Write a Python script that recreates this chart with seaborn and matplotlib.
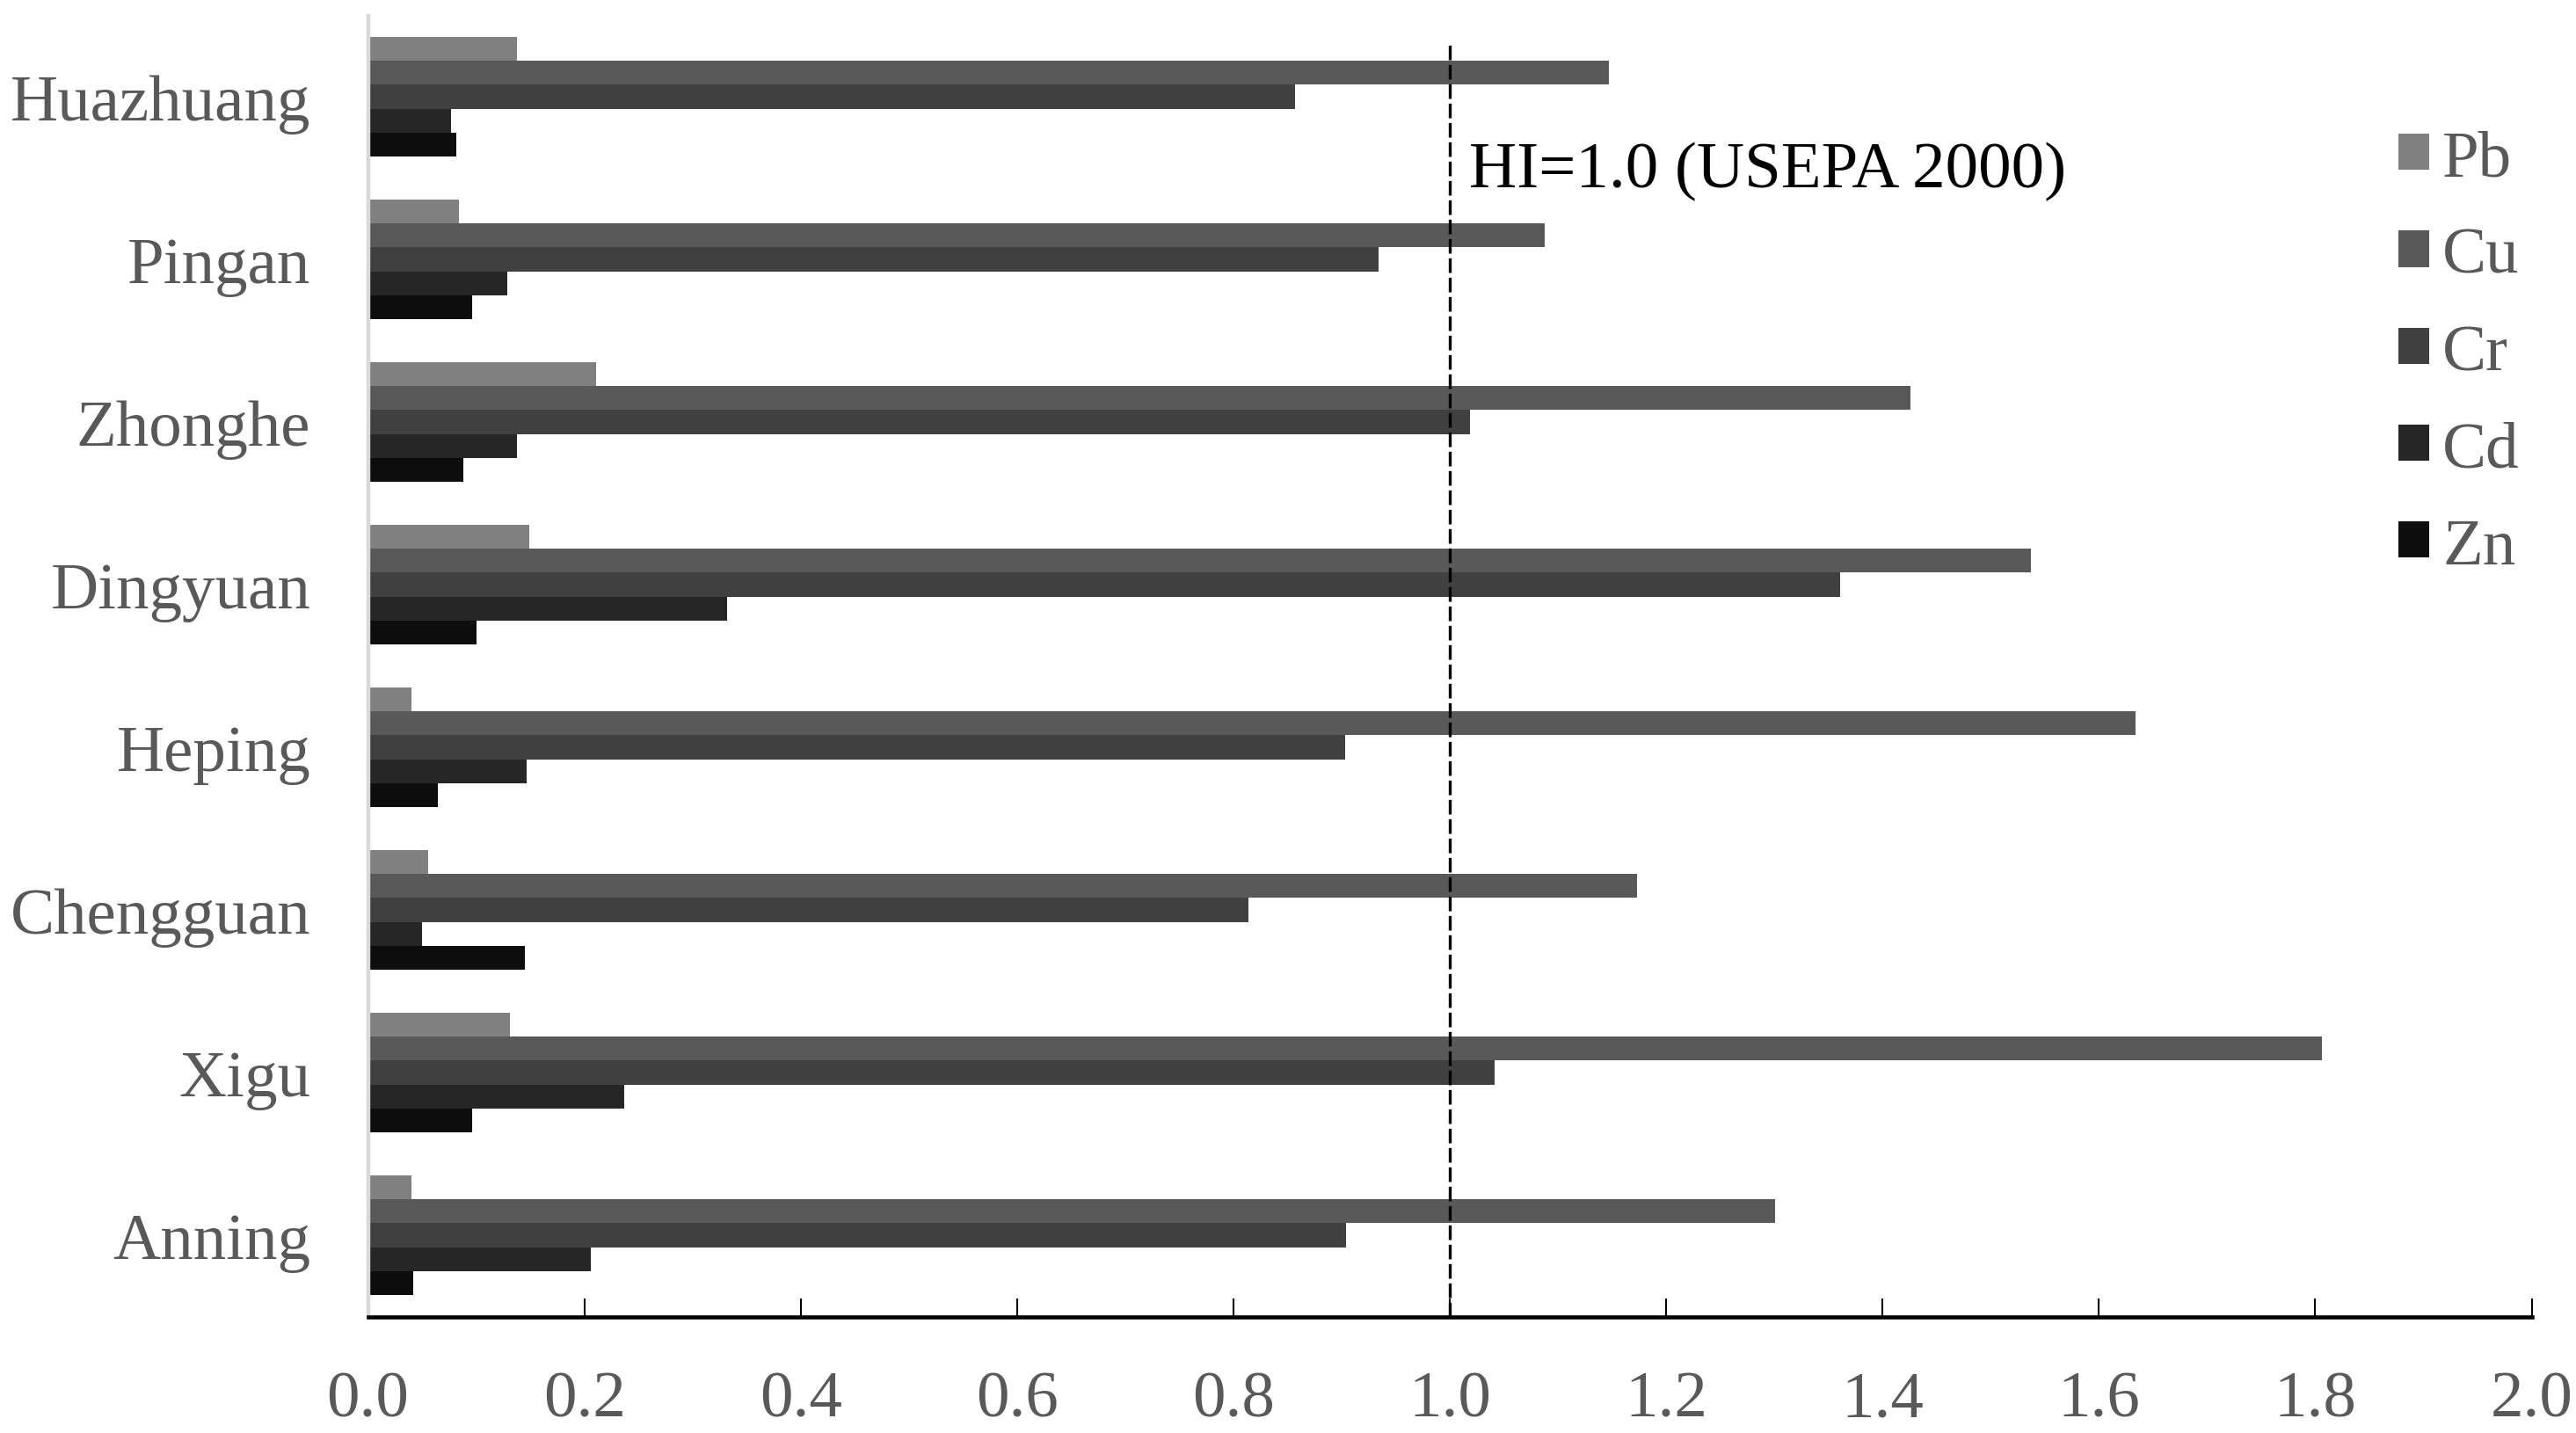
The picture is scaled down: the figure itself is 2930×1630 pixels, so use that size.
import numpy as np
import pandas as pd
import matplotlib
matplotlib.use("Agg")
import matplotlib.pyplot as plt
import seaborn as sns

# ---- data ----
sites = ["Huazhuang", "Pingan", "Zhonghe", "Dingyuan", "Heping", "Chengguan", "Xigu", "Anning"]
metals = ["Pb", "Cu", "Cr", "Cd", "Zn"]
pb = [0.138, 0.084, 0.211, 0.149, 0.040, 0.056, 0.131, 0.040]
cu = [1.147, 1.088, 1.426, 1.537, 1.634, 1.173, 1.806, 1.301]
cr = [0.857, 0.934, 1.019, 1.361, 0.903, 0.814, 1.041, 0.904]
cd = [0.077, 0.129, 0.138, 0.332, 0.147, 0.050, 0.237, 0.206]
zn = [0.082, 0.096, 0.088, 0.100, 0.065, 0.145, 0.096, 0.042]
x_ticks = [0.0, 0.2, 0.4, 0.6, 0.8, 1.0, 1.2, 1.4, 1.6, 1.8, 2.0]
threshold = 1.0
threshold_label = "HI=1.0 (USEPA 2000)"

colors = ["#808080", "#595959", "#404040", "#262626", "#0d0d0d"]

series = {"Pb": pb, "Cu": cu, "Cr": cr, "Cd": cd, "Zn": zn}
rows = []
for m in metals:
    for s, v in zip(sites, series[m]):
        rows.append({"Site": s, "Metal": m, "HI": v})
df = pd.DataFrame(rows)

# ---- style ----
sns.set_style("white")
plt.rcParams["font.family"] = ["Liberation Serif", "DejaVu Serif"]

W, H = 2930, 1631
fig = plt.figure(figsize=(W / 100, H / 100), dpi=100)
ax = fig.add_axes([418.5 / W, 1 - 1498.5 / H, (2879.6 - 418.5) / W, (1498.5 - 18.5) / H])

sns.barplot(data=df, y="Site", x="HI", hue="Metal", order=sites, hue_order=metals,
            orient="h", palette=colors, width=0.735, saturation=1, errorbar=None,
            linewidth=0, edgecolor="none", ax=ax)

ax.set_xlim(0, 2.0)
ax.set_ylim(7.5, -0.5)
ax.set_xlabel("")
ax.set_ylabel("")
ax.set_xticks(x_ticks)
ax.set_xticklabels([f"{t:.1f}" for t in x_ticks])

for side in ["top", "right"]:
    ax.spines[side].set_visible(False)
ax.spines["left"].set_color("#d9d9d9")
ax.spines["left"].set_linewidth(3.2)
ax.spines["bottom"].set_color("black")
ax.spines["bottom"].set_linewidth(3.3)
ax.spines["bottom"].set_zorder(6)

ax.tick_params(axis="x", bottom=True, direction="in", length=15, width=1.5, color="black",
               labelsize=54, labelcolor="#595959", pad=44)
ax.tick_params(axis="y", left=False, length=0, labelsize=54, labelcolor="#595959", pad=47)
ax.xaxis.get_major_ticks()[0].tick1line.set_visible(False)

# threshold line
ax.axvline(threshold, ymin=0, ymax=0.978, color="black", lw=2.4,
           linestyle=(0, (5, 1.6)), zorder=5)
ax.text(1.018, 0.55, threshold_label, fontsize=54, color="black",
        va="baseline", ha="left")

# legend
handles, labels = ax.get_legend_handles_labels()
if ax.get_legend() is not None:
    ax.get_legend().remove()
fig.legend(handles, labels, loc="upper left",
           bbox_to_anchor=(2728 / W, 1 - 149 / H), bbox_transform=fig.transFigure,
           frameon=False, fontsize=54, handlelength=0.467, handleheight=0.467,
           handletextpad=0.2, labelspacing=0.57, borderpad=0, borderaxespad=0,
           labelcolor="#595959")

fig.savefig("out.png", dpi=100, facecolor="white")
